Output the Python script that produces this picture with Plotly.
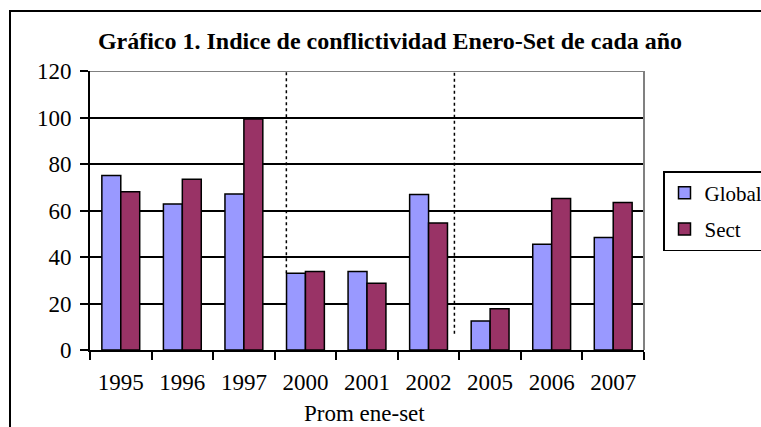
import plotly.graph_objects as go

categories = ["1995", "1996", "1997", "2000", "2001", "2002", "2005", "2006", "2007"]
global_vals = [75.1, 62.8, 67.1, 33.0, 33.8, 66.9, 12.5, 45.5, 48.4]
sect_vals = [68.1, 73.4, 99.4, 33.8, 28.7, 54.6, 17.7, 65.2, 63.4]
y_ticks = [0, 20, 40, 60, 80, 100, 120]

FONT = "Liberation Serif, Times New Roman, serif"
W, H = 761, 427
L, R, T, B = 90, 117, 71, 77
PW, PH = W - L - R, H - T - B

fig = go.Figure()
fig.add_trace(go.Bar(x=categories, y=global_vals, name="Global",
                     marker=dict(color="#9999FF", line=dict(color="black", width=1.5)),
                     legendgroup="g"))
fig.add_trace(go.Bar(x=categories, y=sect_vals, name="Sect",
                     marker=dict(color="#993366", line=dict(color="black", width=1.5)),
                     legendgroup="s"))

shapes = [
    # plot area top and right borders (gray)
    dict(type="line", xref="paper", yref="y", x0=0, x1=1, y0=120, y1=120,
         line=dict(color="#808080", width=2), layer="above"),
    dict(type="line", xref="paper", yref="y", x0=1, x1=1, y0=0, y1=120,
         line=dict(color="#808080", width=2), layer="above"),
    # dotted separators
    dict(type="line", xref="x", yref="y", x0=2.69, x1=2.69, y0=33, y1=120,
         line=dict(color="black", width=1.5, dash="dot"), layer="above"),
    dict(type="line", xref="x", yref="y", x0=5.42, x1=5.42, y0=7, y1=120,
         line=dict(color="black", width=1.5, dash="dot"), layer="above"),
    # outer chart frame
    dict(type="rect", xref="paper", yref="paper",
         x0=(10 - L) / PW, x1=1.5,
         y0=-0.6, y1=(H - B - 11) / PH,
         line=dict(color="black", width=2), fillcolor="rgba(0,0,0,0)", layer="above"),
]

fig.update_layout(
    width=W, height=H,
    margin=dict(l=L, r=R, t=T, b=B, autoexpand=False),
    paper_bgcolor="white", plot_bgcolor="white",
    font=dict(family=FONT, color="black", size=23),
    barmode="group", bargap=0.385, bargroupgap=0,
    title=dict(text="<b>Gráfico 1. Indice de conflictividad Enero-Set de cada año</b>",
               x=390 / W, xanchor="center", xref="container",
               y=1 - 41 / H, yanchor="middle", yref="container",
               font=dict(family=FONT, size=24, color="black")),
    xaxis=dict(type="category", showgrid=False, showline=True, linecolor="black", linewidth=2,
               ticks="outside", tickson="boundaries", ticklen=8, tickwidth=2, tickcolor="black",
               tickfont=dict(family=FONT, size=23), automargin=False, ticklabelstandoff=10),
    yaxis=dict(range=[0, 120], tickvals=y_ticks, showgrid=True, gridcolor="black", gridwidth=1.5,
               showline=True, linecolor="black", linewidth=2, zeroline=False,
               ticks="outside", ticklen=8, tickwidth=2, tickcolor="black",
               tickfont=dict(family=FONT, size=23), automargin=False, ticklabelstandoff=4),
    legend=dict(x=(663 - L) / PW, xanchor="left",
                y=(H - B - 171) / PH, yanchor="top",
                bordercolor="black", borderwidth=1.5, bgcolor="white",
                font=dict(family=FONT, size=21), traceorder="grouped", tracegroupgap=6,
                itemwidth=30),
    shapes=shapes,
    annotations=[dict(text="Prom ene-set", xref="paper", yref="paper",
                      x=(364 - L) / PW, y=-(413 - (H - B)) / PH,
                      xanchor="center", yanchor="middle", showarrow=False,
                      font=dict(family=FONT, size=23))],
    showlegend=True,
)

fig.write_html("out.html", config={"displayModeBar": False},
               post_script="document.body.style.margin='0px';document.body.style.overflow='hidden';")
